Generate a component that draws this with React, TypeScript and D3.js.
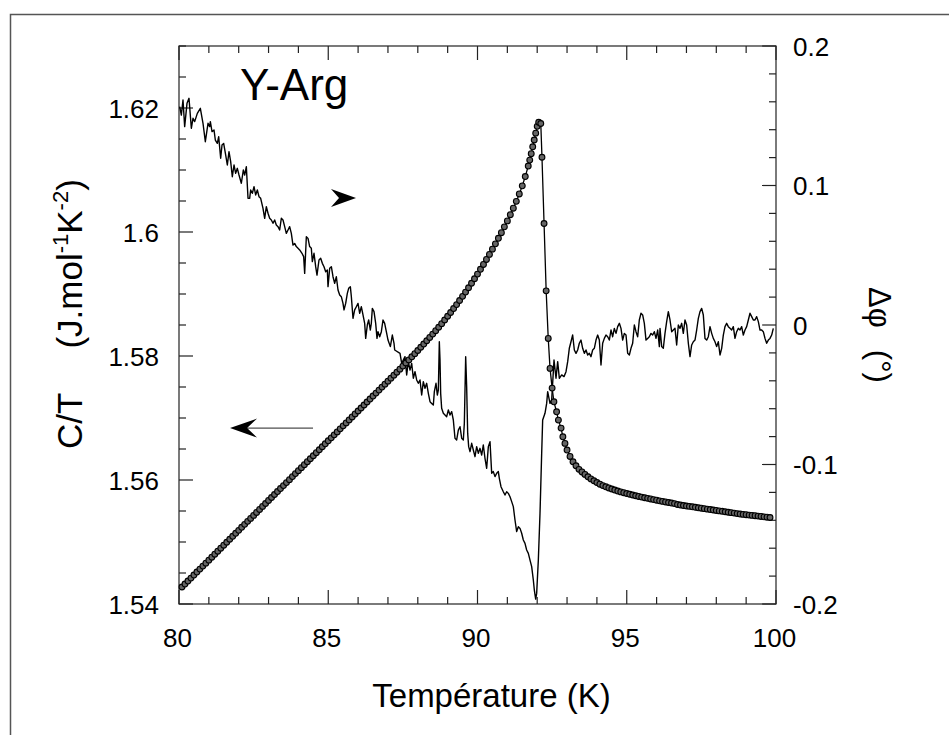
import React from 'react';
import * as d3 from 'd3';

// ---------- data ----------
// C/T (left axis), J.mol-1K-2, vs temperature (K)
const T_CT = [
  80.1, 80.2, 80.3, 80.4, 80.5, 80.6, 80.7, 80.8, 80.9, 81.0,
  81.1, 81.2, 81.3, 81.4, 81.5, 81.6, 81.7, 81.8, 81.9, 82.0,
  82.1, 82.2, 82.3, 82.4, 82.5, 82.6, 82.7, 82.8, 82.9, 83.0,
  83.1, 83.2, 83.3, 83.4, 83.5, 83.6, 83.7, 83.8, 83.9, 84.0,
  84.1, 84.2, 84.3, 84.4, 84.5, 84.6, 84.7, 84.8, 84.9, 85.0,
  85.1, 85.2, 85.3, 85.4, 85.5, 85.6, 85.7, 85.8, 85.9, 86.0,
  86.1, 86.2, 86.3, 86.4, 86.5, 86.6, 86.7, 86.8, 86.9, 87.0,
  87.1, 87.2, 87.3, 87.4, 87.5, 87.6, 87.7, 87.8, 87.9, 88.0,
  88.1, 88.2, 88.3, 88.4, 88.5, 88.6, 88.7, 88.8, 88.9, 89.0,
  89.1, 89.2, 89.3, 89.4, 89.5, 89.6, 89.7, 89.8, 89.9, 90.0,
  90.1, 90.2, 90.3, 90.4, 90.5, 90.6, 90.7, 90.8, 90.9, 91.0,
  91.1, 91.2, 91.3, 91.4, 91.5, 91.6, 91.7, 91.75, 91.8, 91.85,
  91.9, 91.95, 92.0, 92.05, 92.12, 92.16, 92.23, 92.3, 92.37, 92.43,
  92.5, 92.56, 92.65, 92.71, 92.8, 92.86, 92.93, 93.0, 93.1, 93.2,
  93.3, 93.4, 93.5, 93.6, 93.7, 93.8, 93.9, 94.0, 94.1, 94.2,
  94.3, 94.4, 94.5, 94.6, 94.7, 94.8, 94.9, 95.0, 95.1, 95.2,
  95.3, 95.4, 95.5, 95.6, 95.7, 95.8, 95.9, 96.0, 96.1, 96.2,
  96.3, 96.4, 96.5, 96.6, 96.7, 96.8, 96.9, 97.0, 97.1, 97.2,
  97.3, 97.4, 97.5, 97.6, 97.7, 97.8, 97.9, 98.0, 98.1, 98.2,
  98.3, 98.4, 98.5, 98.6, 98.7, 98.8, 98.9, 99.0, 99.1, 99.2,
  99.3, 99.4, 99.5, 99.6, 99.7, 99.8,
];
const CT = [
  1.54274, 1.54322, 1.5437, 1.54418, 1.54467, 1.54515, 1.54563, 1.54611, 1.54659, 1.54707,
  1.54755, 1.54803, 1.54852, 1.549, 1.54948, 1.54996, 1.55044, 1.55092, 1.5514, 1.55188,
  1.55237, 1.55285, 1.55333, 1.55381, 1.55429, 1.55477, 1.55525, 1.55573, 1.55621, 1.5567,
  1.55718, 1.55766, 1.55814, 1.55862, 1.5591, 1.55958, 1.56006, 1.56055, 1.56103, 1.56151,
  1.56199, 1.56247, 1.56295, 1.56343, 1.56391, 1.5644, 1.56488, 1.56536, 1.56584, 1.56632,
  1.5668, 1.56728, 1.56776, 1.56825, 1.56873, 1.56921, 1.56969, 1.57017, 1.57065, 1.57113,
  1.57161, 1.5721, 1.57258, 1.57306, 1.57354, 1.57402, 1.5745, 1.57498, 1.57546, 1.57594,
  1.57643, 1.57691, 1.57739, 1.57788, 1.57837, 1.57887, 1.57937, 1.57987, 1.58038, 1.58089,
  1.58141, 1.58193, 1.58246, 1.58299, 1.58353, 1.58408, 1.58464, 1.58522, 1.58581, 1.58641,
  1.58702, 1.58765, 1.58829, 1.58895, 1.58962, 1.59031, 1.59101, 1.59173, 1.59246, 1.59321,
  1.59398, 1.59477, 1.59557, 1.59639, 1.59723, 1.59809, 1.59898, 1.59989, 1.60083, 1.60179,
  1.60279, 1.60384, 1.60494, 1.60614, 1.60744, 1.60894, 1.61064, 1.6116, 1.61264, 1.61374,
  1.61484, 1.61594, 1.61704, 1.6177, 1.6175, 1.61206, 1.60137, 1.59051, 1.58283, 1.578,
  1.57482, 1.57261, 1.571, 1.56966, 1.56837, 1.56697, 1.5659, 1.56483, 1.5638, 1.56294,
  1.5623, 1.56172, 1.5613, 1.5609, 1.56052, 1.56018, 1.55988, 1.5596, 1.55932, 1.5591,
  1.5589, 1.55872, 1.55855, 1.55838, 1.55822, 1.55808, 1.55795, 1.55782, 1.5577, 1.55758,
  1.55746, 1.55735, 1.55724, 1.55714, 1.55704, 1.55694, 1.55684, 1.55674, 1.55664, 1.55655,
  1.55646, 1.55637, 1.55628, 1.55619, 1.55605, 1.55596, 1.55588, 1.5558, 1.55574, 1.55568,
  1.5556, 1.55552, 1.55545, 1.55538, 1.5553, 1.55523, 1.55516, 1.55509, 1.55502, 1.55495,
  1.55488, 1.5548, 1.55473, 1.55466, 1.55458, 1.55451, 1.55445, 1.5544, 1.55434, 1.55429,
  1.55424, 1.55418, 1.55412, 1.55406, 1.554, 1.55395,
];

// Delta phi (right axis, degrees) vs temperature (K)
const T_PHI = [
  80.022, 80.078, 80.134, 80.19, 80.268, 80.335, 80.413, 80.469, 80.525, 80.614,
  80.715, 80.804, 80.882, 80.972, 81.027, 81.05, 81.106, 81.173, 81.217, 81.284,
  81.329, 81.396, 81.441, 81.496, 81.563, 81.619, 81.675, 81.731, 81.786, 81.843,
  81.898, 81.954, 82.01, 82.088, 82.155, 82.2, 82.256, 82.312, 82.367, 82.401,
  82.457, 82.513, 82.568, 82.624, 82.68, 82.736, 82.814, 82.87, 82.926, 82.982,
  83.037, 83.093, 83.149, 83.205, 83.26, 83.317, 83.372, 83.428, 83.484, 83.54,
  83.595, 83.652, 83.707, 83.763, 83.819, 83.875, 83.93, 83.987, 84.042, 84.12,
  84.176, 84.21, 84.266, 84.322, 84.377, 84.433, 84.467, 84.523, 84.579, 84.623,
  84.69, 84.746, 84.802, 84.858, 84.914, 84.969, 84.992, 85.048, 85.104, 85.159,
  85.215, 85.271, 85.327, 85.383, 85.438, 85.494, 85.528, 85.584, 85.639, 85.684,
  85.74, 85.774, 85.829, 85.885, 85.941, 85.997, 86.053, 86.108, 86.164, 86.22,
  86.254, 86.309, 86.354, 86.41, 86.443, 86.477, 86.533, 86.589, 86.633, 86.667,
  86.723, 86.779, 86.834, 86.89, 86.946, 87.002, 87.08, 87.147, 87.203, 87.226,
  87.404, 87.46, 87.571, 87.627, 87.683, 87.739, 87.795, 87.85, 87.906, 87.962,
  88.018, 88.074, 88.13, 88.185, 88.241, 88.297, 88.353, 88.409, 88.465, 88.52,
  88.554, 88.61, 88.654, 88.688, 88.721, 88.744, 88.766, 88.799, 88.855, 88.967,
  89.023, 89.079, 89.135, 89.19, 89.246, 89.302, 89.358, 89.414, 89.47, 89.525,
  89.559, 89.604, 89.637, 89.671, 89.704, 89.749, 89.805, 89.86, 89.916, 89.972,
  90.028, 90.084, 90.14, 90.195, 90.251, 90.307, 90.363, 90.419, 90.475, 90.53,
  90.586, 90.642, 90.698, 90.731, 90.787, 90.865, 90.921, 90.977, 91.033, 91.089,
  91.145, 91.2, 91.256, 91.312, 91.368, 91.424, 91.48, 91.535, 91.591, 91.647,
  91.703, 91.759, 91.815, 91.87, 91.904, 91.949, 91.982, 92.038, 92.094, 92.15,
  92.183, 92.261, 92.317, 92.351, 92.395, 92.429, 92.485, 92.563, 92.63, 92.686,
  92.741, 92.82, 92.898, 92.965, 93.021, 93.076, 93.132, 93.188, 93.244, 93.3,
  93.356, 93.411, 93.467, 93.523, 93.579, 93.635, 93.691, 93.746, 93.802, 93.858,
  93.914, 93.97, 94.026, 94.081, 94.137, 94.193, 94.249, 94.305, 94.361, 94.416,
  94.472, 94.528, 94.584, 94.64, 94.696, 94.752, 94.807, 94.863, 94.919, 94.975,
  95.031, 95.087, 95.142, 95.198, 95.254, 95.31, 95.366, 95.421, 95.477, 95.533,
  95.589, 95.645, 95.701, 95.756, 95.812, 95.868, 95.924, 95.98, 96.036, 96.092,
  96.114, 96.17, 96.225, 96.281, 96.337, 96.393, 96.449, 96.505, 96.56, 96.616,
  96.672, 96.728, 96.784, 96.84, 96.895, 96.951, 97.007, 97.063, 97.119, 97.175,
  97.23, 97.286, 97.342, 97.398, 97.454, 97.51, 97.565, 97.621, 97.677, 97.733,
  97.789, 97.845, 97.9, 97.956, 98.012, 98.068, 98.124, 98.18, 98.235, 98.291,
  98.347, 98.403, 98.459, 98.515, 98.57, 98.626, 98.682, 98.738, 98.794, 98.85,
  98.905, 98.961, 99.017, 99.073, 99.129, 99.185, 99.24, 99.296, 99.352, 99.408,
  99.464, 99.52, 99.575, 99.631, 99.687, 99.743, 99.799, 99.855, 99.91,
];
const PHI = [
  0.1565, 0.1505, 0.1613, 0.1422, 0.1589, 0.1625, 0.141, 0.1482, 0.1458, 0.1517,
  0.1553, 0.1446, 0.1314, 0.1446, 0.1422, 0.1458, 0.1386, 0.1398, 0.1326, 0.1302,
  0.135, 0.1195, 0.129, 0.1302, 0.1219, 0.1147, 0.1243, 0.1171, 0.1063, 0.1147,
  0.1087, 0.1123, 0.1075, 0.1016, 0.1111, 0.1075, 0.1135, 0.0908, 0.0908, 0.0968,
  0.0944, 0.0992, 0.0932, 0.0968, 0.092, 0.0908, 0.0836, 0.0765, 0.0848, 0.0801,
  0.0765, 0.0753, 0.0729, 0.0753, 0.0717, 0.0705, 0.0681, 0.0765, 0.0753, 0.0705,
  0.0657, 0.0681, 0.0705, 0.0657, 0.0573, 0.0585, 0.0562, 0.055, 0.0538, 0.0514,
  0.049, 0.037, 0.0633, 0.0621, 0.0562, 0.055, 0.0454, 0.0514, 0.0418, 0.0358,
  0.0466, 0.0478, 0.0442, 0.0418, 0.0382, 0.0394, 0.0275, 0.0406, 0.0418, 0.0346,
  0.0299, 0.0346, 0.0251, 0.0215, 0.0203, 0.0155, 0.0108, 0.0155, 0.0227, 0.0263,
  0.0275, 0.0203, 0.0048, 0.0108, 0.0131, 0.0155, 0.0084, 0.0131, 0.0072, 0.0012,
  -0.0096, 0.0, 0.0036, -0.0036, 0.0012, 0.0119, 0.0096, 0.0012, -0.0096, -0.0048,
  -0.0084, -0.0048, 0.0036, 0.0012, -0.0048, -0.0108, -0.0155, -0.0072, -0.0131, -0.0179,
  -0.0203, -0.0275, -0.0227, -0.0358, -0.0263, -0.0323, -0.0275, -0.0382, -0.0335, -0.0394,
  -0.0418, -0.0394, -0.0502, -0.0406, -0.0454, -0.0418, -0.049, -0.055, -0.0562, -0.0573,
  -0.0478, -0.0418, -0.0502, -0.0466, -0.012, -0.0251, -0.049, -0.0597, -0.0633, -0.0657,
  -0.0609, -0.0645, -0.0621, -0.0681, -0.0812, -0.0824, -0.0753, -0.0729, -0.0812, -0.0824,
  -0.0705, -0.0227, -0.0442, -0.0777, -0.0872, -0.0908, -0.0848, -0.0896, -0.0944, -0.0872,
  -0.092, -0.0884, -0.0932, -0.086, -0.0956, -0.1027, -0.0872, -0.0836, -0.1063, -0.1051,
  -0.1087, -0.1063, -0.1051, -0.1099, -0.1159, -0.1195, -0.1219, -0.1195, -0.1207, -0.1231,
  -0.1266, -0.1302, -0.1398, -0.1481, -0.1446, -0.1458, -0.1493, -0.1541, -0.1565, -0.1613,
  -0.1637, -0.1685, -0.1732, -0.1828, -0.19, -0.1965, -0.1924, -0.1685, -0.135, -0.092,
  -0.0681, -0.0633, -0.0562, -0.0478, -0.0526, -0.0562, -0.0538, -0.0251, -0.0382, -0.0263,
  -0.0382, -0.0358, -0.037, -0.0335, -0.0263, -0.0167, -0.012, -0.0072, -0.0179, -0.0203,
  -0.0179, -0.0131, -0.0108, -0.0167, -0.0203, -0.0179, -0.0215, -0.0203, -0.0227, -0.0179,
  -0.0167, -0.0108, -0.0072, -0.0108, -0.0287, -0.0131, -0.0096, -0.0072, -0.0084, -0.0108,
  -0.0036, -0.0084, -0.0024, -0.006, -0.0012, 0.0012, -0.0024, -0.0108, -0.006, -0.0072,
  -0.0203, -0.0215, -0.0167, -0.0131, 0.0, -0.0048, -0.0084, 0.0036, 0.0084, 0.0072,
  0.0012, -0.0108, -0.0096, -0.0084, -0.006, -0.0072, -0.0048, -0.0096, -0.0036, -0.0155,
  -0.0024, -0.0155, -0.0167, -0.006, 0.0024, 0.0096, 0.0036, -0.0048, -0.0036, -0.0024,
  -0.0143, 0.0, -0.0024, 0.0012, -0.006, 0.0036, 0.0, -0.0131, -0.0227, -0.0143,
  -0.012, -0.0108, -0.0036, 0.0048, 0.0096, 0.0119, 0.0072, -0.0096, -0.0108, -0.0084,
  -0.0012, -0.006, -0.0096, -0.012, -0.0155, -0.012, -0.0215, -0.0167, -0.0072, -0.0012,
  0.0012, -0.0012, -0.0024, -0.0036, -0.0012, -0.0096, -0.0048, -0.0024, -0.0036, -0.0012,
  -0.0072, -0.0036, -0.0012, 0.0036, 0.0084, 0.006, 0.0036, 0.0036, 0.006, 0.0024,
  -0.0036, -0.0036, -0.0048, -0.0096, -0.0131, -0.0108, -0.0096, -0.0072, -0.0024,
];

const X_TICKS = [80, 85, 90, 95, 100];
const X_LABELS = ['80', '85', '90', '95', '100'];
const YL_TICKS = [1.54, 1.56, 1.58, 1.6, 1.62];
const YL_LABELS = ['1.54', '1.56', '1.58', '1.6', '1.62'];
const YR_TICKS = [-0.2, -0.1, 0, 0.1, 0.2];
const YR_LABELS = ['-0.2', '-0.1', '0', '0.1', '0.2'];

// annotations placed in data units
const ARROW_LEFT = { tFrom: 84.49, tTo: 81.71, ct: 1.56837 };
const ARROW_RIGHT = { t: 85.93, phi: 0.091 };
const SAMPLE_LABEL = { text: 'Y-Arg', t: 82.04, ct: 1.6213 };

const FONT = '"Liberation Sans", Arial, Helvetica, sans-serif';

export default function App() {
  const W = 949;
  const H = 735;
  const L = 179, R = 776, T = 46, B = 604;

  const x = d3.scaleLinear().domain([80, 100]).range([L, R]);
  const yL = d3.scaleLinear().domain([1.54, 1.63]).range([B, T]);
  const yR = d3.scaleLinear().domain([-0.2, 0.2]).range([B, T]);

  const ctData: [number, number][] = T_CT.map((t, i) => [t, CT[i]]);
  const phiData: [number, number][] = T_PHI.map((t, i) => [t, PHI[i]]);

  const lineCT = d3.line<[number, number]>().x((d) => x(d[0])).y((d) => yL(d[1]));
  const linePhi = d3.line<[number, number]>().x((d) => x(d[0])).y((d) => yR(d[1]));

  const xMinor = d3.range(0, 21).map((i) => ({ v: 80 + i, major: i % 5 === 0 }));
  const yLMinor = d3.range(0, 19).map((i) => ({ v: 1.54 + i * 0.005, major: i % 4 === 0 }));
  const yRMinor = d3.range(0, 21).map((i) => ({ v: -0.2 + i * 0.02, major: i % 5 === 0 }));

  const axisColor = '#222';
  const MAJ = 14, MIN = 7;

  const alx0 = x(ARROW_LEFT.tFrom), alx1 = x(ARROW_LEFT.tTo), aly = yL(ARROW_LEFT.ct);
  const arx = x(ARROW_RIGHT.t), ary = yR(ARROW_RIGHT.phi);

  return (
    <svg
      width={W}
      height={H}
      viewBox={`0 0 ${W} ${H}`}
      style={{ position: 'absolute', left: 0, top: 0, background: '#fff' }}
      fontFamily={FONT}
    >
      <rect x={0} y={0} width={W} height={H} fill="#fff" />
      {/* outer frame */}
      <path d={`M10.5,${H} V14.5 H${W}`} fill="none" stroke="#555" strokeWidth={1.5} />

      {/* plot frame */}
      <rect x={L} y={T} width={R - L} height={B - T} fill="none" stroke={axisColor} strokeWidth={1.2} />

      {/* x ticks bottom & top */}
      {xMinor.map((d, i) => (
        <g key={'xt' + i} stroke={axisColor} strokeWidth={1.2}>
          <line x1={x(d.v)} x2={x(d.v)} y1={B} y2={B - (d.major ? MAJ : MIN)} />
          <line x1={x(d.v)} x2={x(d.v)} y1={T} y2={T + (d.major ? MAJ : MIN)} />
        </g>
      ))}
      {/* left ticks */}
      {yLMinor.map((d, i) => (
        <line key={'yl' + i} x1={L} x2={L + (d.major ? MAJ : MIN)} y1={yL(d.v)} y2={yL(d.v)} stroke={axisColor} strokeWidth={1.2} />
      ))}
      {/* right ticks */}
      {yRMinor.map((d, i) => (
        <line key={'yr' + i} x1={R} x2={R - (d.major ? MAJ : MIN)} y1={yR(d.v)} y2={yR(d.v)} stroke={axisColor} strokeWidth={1.2} />
      ))}

      {/* tick labels */}
      {X_TICKS.map((v, i) => (
        <text key={'xl' + i} x={x(v) - 1.5} y={647} textAnchor="middle" fontSize={26} fill="#000">
          {X_LABELS[i]}
        </text>
      ))}
      {YL_TICKS.map((v, i) => (
        <text key={'yll' + i} x={159} y={yL(v) + 9.5} textAnchor="end" fontSize={26} fill="#000">
          {YL_LABELS[i]}
        </text>
      ))}
      {YR_TICKS.map((v, i) => (
        <text key={'yrl' + i} x={793} y={yR(v) + 9.5} textAnchor="start" fontSize={26} fill="#000">
          {YR_LABELS[i]}
        </text>
      ))}

      {/* axis titles */}
      <text x={491.5} y={707} textAnchor="middle" fontSize={33} fill="#000">
        Température (K)
      </text>
      <text transform="translate(82,449) rotate(-90)" fontSize={35} fill="#000">
        <tspan>C/T</tspan>
        <tspan dx={44}>(J.mol</tspan>
        <tspan fontSize={22} dy={-14}>-1</tspan>
        <tspan dy={14}>K</tspan>
        <tspan fontSize={22} dy={-14}>-2</tspan>
        <tspan dy={14}>)</tspan>
      </text>
      <text transform="translate(869,287) rotate(90)" fontSize={31} fill="#000">
        <tspan>Δφ</tspan>
        <tspan dx={22}>(°)</tspan>
      </text>

      {/* sample label */}
      <text x={x(SAMPLE_LABEL.t)} y={yL(SAMPLE_LABEL.ct)} fontSize={44} fill="#000">
        {SAMPLE_LABEL.text}
      </text>

      {/* arrows */}
      <line x1={alx0} x2={alx1 + 10} y1={aly} y2={aly} stroke="#222" strokeWidth={1} />
      <path
        d={`M${alx1},${aly} L${alx1 + 27},${aly - 9.5} L${alx1 + 17},${aly} L${alx1 + 27},${aly + 9.5} Z`}
        fill="#000"
      />
      <path
        d={`M${arx},${ary} L${arx - 25},${ary - 9} L${arx - 17},${ary} L${arx - 25},${ary + 9} Z`}
        fill="#000"
      />

      {/* delta phi noisy line */}
      <path d={linePhi(phiData) || ''} fill="none" stroke="#000" strokeWidth={1.4} strokeLinejoin="round" />

      {/* C/T line with circle markers */}
      <path d={lineCT(ctData) || ''} fill="none" stroke="#000" strokeWidth={1.3} />
      {ctData.map((d, i) => (
        <circle key={'c' + i} cx={x(d[0])} cy={yL(d[1])} r={2.9} fill="#666" stroke="#000" strokeWidth={1.1} />
      ))}
    </svg>
  );
}
